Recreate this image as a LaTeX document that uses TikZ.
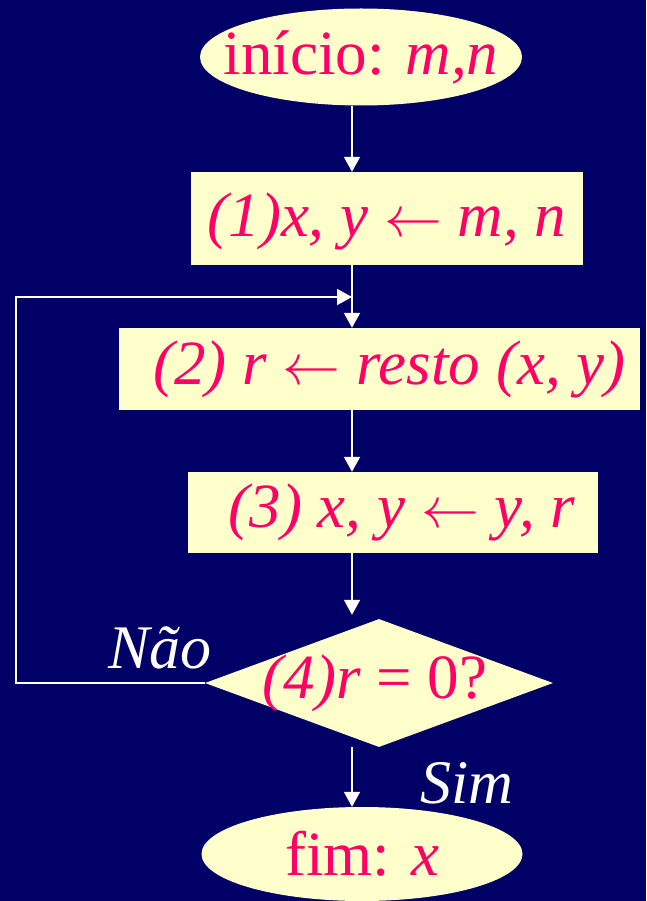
\documentclass[tikz,border=0pt]{standalone}
\usepackage{fontspec}
\setmainfont{Liberation Serif}
\usetikzlibrary{shapes.geometric,arrows.meta}
\definecolor{fundo}{RGB}{0,0,102}
\definecolor{caixa}{RGB}{255,255,204}
\definecolor{letra}{RGB}{255,0,102}
\newcommand{\recebe}{\resizebox{58pt}{!}{$\leftarrow$}}
\tikzset{
  forma/.style={fill=caixa,draw=none,inner sep=0pt},
  elipse/.style={forma,ellipse},
  losango/.style={forma,diamond},
  caixote/.style={forma,rectangle},
  txt/.style={text=letra,inner sep=0pt,font=\fontsize{63}{69}\selectfont},
  rotulo/.style={text=white,inner sep=0pt,font=\itshape\fontsize{62}{68}\selectfont},
  seta/.style={draw=white,line width=2pt,-{Triangle[length=15pt,width=16pt]}}
}
\begin{document}
\begin{tikzpicture}[x=1pt,y=-1pt]
\fill[fundo] (0,0) rectangle (646,901);
\useasboundingbox (0,0) rectangle (646,901);
\coordinate (col) at (352,0);
\node[elipse,minimum width=322pt,minimum height=97pt] (inicio) at (361,57) {};
\node[txt] (t0) at (inicio) {início: \textit{m,n}};
\node[caixote,minimum width=392pt,minimum height=93pt] (p1) at (387,218.5) {};
\node[txt,yshift=-3pt] (t1) at (p1) {\itshape (1)x, y \recebe\ m, n};
\node[caixote,minimum width=521pt,minimum height=82pt] (p2) at (379.5,369) {};
\node[txt,xshift=10pt] (t2) at (p2) {\itshape (2) r \recebe\ resto (x, y)};
\node[caixote,minimum width=410pt,minimum height=81pt] (p3) at (393,512.5) {};
\node[txt,xshift=9pt] (t3) at (p3) {\itshape (3) x, y \recebe\ y, r};
\node[losango,minimum width=348pt,minimum height=128pt] (p4) at (379,683) {};
\node[txt,xshift=-4pt] (t4) at (p4) {\textit{(4)r} = 0?};
\node[elipse,minimum width=321pt,minimum height=94pt] (fim) at (362,854) {};
\node[txt] (t5) at (fim) {fim: \textit{x}};
\node[rotulo] (nao) at (160,648) {Não};
\node[rotulo] (sim) at (467,783) {Sim};
\coordinate (volta) at (16,297);
\coordinate (junta) at (352,297);
\draw[seta] (inicio.south -| col) -- (p1.north -| col);
\draw[seta] (p1.south -| col) -- (p2.north -| col);
\draw[seta] (p2.south -| col) -- (p3.north -| col);
\draw[seta,shorten >=4pt] (p3.south -| col) -- (p4.north -| col);
\draw[seta] (p4.south -| col) -- (fim.north -| col);
\draw[seta] (p4.west) -- (p4.west -| volta) -- (volta) -- (junta);
\end{tikzpicture}
\end{document}
